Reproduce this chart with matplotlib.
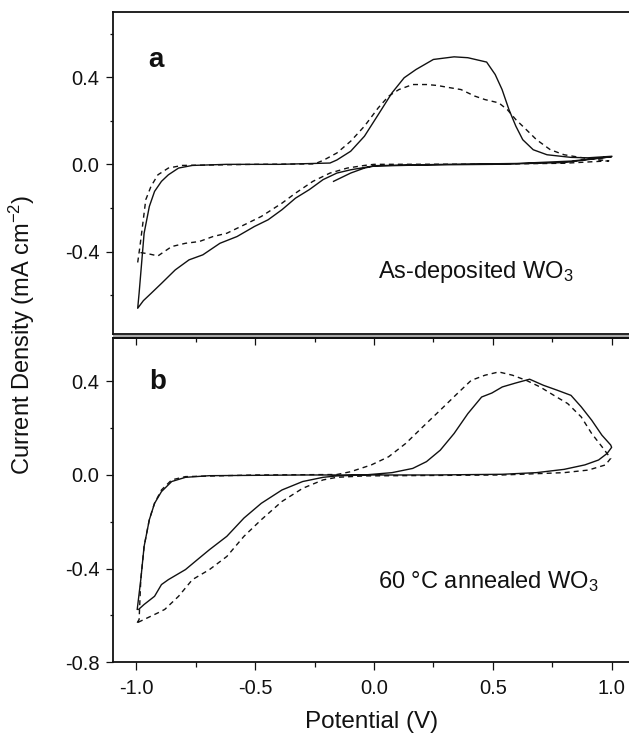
import numpy as np
import matplotlib
matplotlib.use('Agg')
import matplotlib.pyplot as plt
from matplotlib.ticker import MultipleLocator, FixedLocator
from matplotlib.patches import Rectangle

plt.rcParams['font.family'] = ['Liberation Sans', 'DejaVu Sans']
plt.rcParams['axes.unicode_minus'] = False
plt.rcParams['mathtext.fontset'] = 'custom'
plt.rcParams['mathtext.rm'] = 'Liberation Sans'
plt.rcParams['mathtext.default'] = 'regular'

# ---- panel a : as-deposited ----
a_solid_v = [-0.17, -0.098, -0.04, 0.0, 0.2, 0.5, 0.8, 1.0,
             0.83, 0.6, 0.3, 0.0, -0.011, -0.098, -0.156, -0.214, -0.272, -0.33, -0.387,
             -0.445, -0.503, -0.576, -0.648, -0.72, -0.778, -0.836, -0.894, -0.938, -0.97, -0.994,
             -0.988, -0.967, -0.945, -0.923, -0.894, -0.865, -0.822, -0.764, -0.62, -0.4,
             -0.185, -0.156, -0.098, -0.04, 0.018, 0.076, 0.127, 0.177, 0.25, 0.337, 0.395,
             0.474, 0.51, 0.539, 0.568, 0.597, 0.626, 0.67, 0.728, 0.829, 0.9, 1.0]
a_solid_i = [-0.078, -0.04, -0.017, -0.008, -0.003, 0.0, 0.008, 0.035,
             0.015, 0.004, 0.0, -0.006, -0.009, -0.025, -0.04, -0.07, -0.116, -0.155, -0.208,
             -0.254, -0.285, -0.331, -0.362, -0.415, -0.438, -0.484, -0.546, -0.592, -0.625, -0.66,
             -0.59, -0.316, -0.193, -0.124, -0.078, -0.048, -0.017, -0.005, 0.0, 0.0,
             0.006, 0.02, 0.06, 0.129, 0.228, 0.328, 0.397, 0.435, 0.481, 0.493, 0.489,
             0.469, 0.412, 0.343, 0.251, 0.175, 0.113, 0.067, 0.044, 0.032, 0.03, 0.037]

a_dash_v = [-0.994, -0.985, -0.974, -0.96, -0.938, -0.909, -0.865, -0.807, -0.5, -0.25,
            -0.214, -0.156, -0.098, -0.04, 0.018, 0.062, 0.105, 0.163, 0.221, 0.264, 0.322,
            0.366, 0.424, 0.467, 0.525, 0.561, 0.597, 0.641, 0.684, 0.742, 0.8, 0.9, 0.988,
            0.8, 0.5, 0.0, -0.04, -0.112, -0.185, -0.257, -0.33, -0.387, -0.474, -0.532,
            -0.619, -0.677, -0.735, -0.793, -0.851, -0.909, -0.95, -0.98, -0.996]
a_dash_i = [-0.45, -0.38, -0.285, -0.162, -0.101, -0.048, -0.017, -0.005, 0.0, 0.002,
            0.018, 0.052, 0.106, 0.175, 0.259, 0.313, 0.343, 0.366, 0.366, 0.362, 0.351,
            0.343, 0.313, 0.297, 0.282, 0.251, 0.205, 0.159, 0.113, 0.067, 0.044, 0.026, 0.016,
            0.005, 0.001, 0.0, -0.005, -0.017, -0.04, -0.078, -0.132, -0.178, -0.239, -0.27,
            -0.316, -0.331, -0.354, -0.362, -0.377, -0.42, -0.41, -0.405, -0.41]

# ---- panel b : 60 C annealed ----
b_solid_v = [-0.996, -0.981, -0.967, -0.945, -0.923, -0.894, -0.851, -0.793, -0.692, -0.3,
             -0.04, 0.076, 0.163, 0.221, 0.279, 0.337, 0.395, 0.453, 0.496, 0.54, 0.597,
             0.655, 0.713, 0.771, 0.829, 0.872, 0.916, 0.959, 0.996, 1.0,
             0.981, 0.945, 0.887, 0.8, 0.684, 0.54, 0.25, -0.04, -0.156, -0.214, -0.3,
             -0.387, -0.474, -0.547, -0.619, -0.692, -0.735, -0.793, -0.865, -0.894, -0.923,
             -0.967, -0.99]
b_solid_i = [-0.574, -0.447, -0.305, -0.191, -0.121, -0.071, -0.028, -0.01, -0.003, 0.0,
             0.0, 0.01, 0.028, 0.057, 0.106, 0.177, 0.262, 0.333, 0.35, 0.376, 0.393,
             0.409, 0.383, 0.362, 0.34, 0.291, 0.234, 0.17, 0.128, 0.118,
             0.092, 0.064, 0.043, 0.024, 0.01, 0.003, 0.0, 0.0, -0.004, -0.01, -0.028,
             -0.064, -0.121, -0.184, -0.262, -0.319, -0.355, -0.404, -0.447, -0.468, -0.518,
             -0.553, -0.574]

b_dash_v = [-0.996, -0.988, -0.981, -0.967, -0.945, -0.923, -0.894, -0.851, -0.793, -0.5,
            -0.156, -0.098, -0.011, 0.062, 0.134, 0.206, 0.279, 0.351, 0.409, 0.467, 0.525,
            0.583, 0.641, 0.699, 0.757, 0.815, 0.872, 0.916, 0.959, 0.996,
            0.974, 0.902, 0.8, 0.54, -0.04, -0.156, -0.214, -0.3, -0.387, -0.474, -0.547,
            -0.619, -0.692, -0.764, -0.822, -0.88, -0.909, -0.938, -0.967, -0.996]
b_dash_i = [-0.631, -0.617, -0.447, -0.305, -0.19, -0.12, -0.064, -0.021, -0.007, 0.0,
            0.002, 0.014, 0.043, 0.078, 0.135, 0.206, 0.277, 0.348, 0.404, 0.426, 0.44,
            0.426, 0.404, 0.376, 0.34, 0.305, 0.248, 0.177, 0.121, 0.071,
            0.043, 0.021, 0.01, 0.0, -0.004, -0.01, -0.021, -0.057, -0.113, -0.191, -0.262,
            -0.348, -0.404, -0.447, -0.518, -0.574, -0.589, -0.603, -0.617, -0.631]

W, H = 629, 741
def box(l, t, r, b):
    return [l / W, 1 - b / H, (r - l) / W, (b - t) / H]

fig = plt.figure(figsize=(W / 100, H / 100), dpi=100)
ax_a = fig.add_axes(box(112.5, 11.7, 629, 334))
ax_b = fig.add_axes(box(112.5, 338, 629, 662.3))

ink = '#111111'
dash = (0, (3.6, 2.9))
for ax, sv, si, dv, di in [(ax_a, a_solid_v, a_solid_i, a_dash_v, a_dash_i),
                           (ax_b, b_solid_v, b_solid_i, b_dash_v, b_dash_i)]:
    ax.plot(sv, si, color=ink, lw=1.0)
    ax.plot(dv, di, color=ink, lw=1.0, linestyle=dash)
    ax.set_xlim(-1.1, 1.073)
    ax.spines['right'].set_visible(False)
    for s in ['left', 'top', 'bottom']:
        ax.spines[s].set_linewidth(1.3)
        ax.spines[s].set_color(ink)
    ax.yaxis.set_minor_locator(MultipleLocator(0.2))
    ax.tick_params(axis='y', which='major', direction='out', length=5.3, width=0.9,
                   labelsize=14.5, pad=4, colors=ink)
    ax.tick_params(axis='y', which='minor', direction='out', length=2.4, width=0.9, colors=ink)

ax_a.set_ylim(-0.778, 0.70)
ax_a.yaxis.set_major_locator(FixedLocator([-0.4, 0.0, 0.4]))
ax_a.yaxis.set_major_formatter(plt.FuncFormatter(lambda v, p: '%.1f' % v))
ax_a.tick_params(axis='x', which='both', bottom=False, labelbottom=False)

ax_b.set_ylim(-0.8, 0.585)
ax_b.yaxis.set_major_locator(FixedLocator([-0.8, -0.4, 0.0, 0.4]))
ax_b.yaxis.set_major_formatter(plt.FuncFormatter(lambda v, p: '%.1f' % v))
ax_b.xaxis.set_major_locator(MultipleLocator(0.5))
ax_b.xaxis.set_minor_locator(MultipleLocator(0.25))
ax_b.xaxis.set_major_formatter(plt.FuncFormatter(lambda v, p: '%.1f' % v))
ax_b.tick_params(axis='x', which='major', direction='out', length=5.8, width=0.9,
                 labelsize=14.5, pad=6, colors=ink)
ax_b.tick_params(axis='x', which='minor', direction='out', length=3.4, width=0.9, colors=ink)

sec = ax_b.secondary_xaxis('top')
sec.xaxis.set_major_locator(MultipleLocator(0.5))
sec.xaxis.set_minor_locator(MultipleLocator(0.25))
sec.tick_params(axis='x', which='major', direction='in', length=5.3, width=0.9,
                labeltop=False, colors=ink)
sec.tick_params(axis='x', which='minor', direction='in', length=2.6, width=0.9, colors=ink)
sec.spines['top'].set_linewidth(1.3)

# grey band between the two panels
fig.patches.append(Rectangle((112.5 / W, 1 - 337.3 / H), (629 - 112.5) / W, 2.6 / H,
                             transform=fig.transFigure, facecolor='#a8a8a8',
                             edgecolor='none', zorder=5))

ax_a.text(-0.949, 0.448, 'a', fontsize=20, fontweight='bold', color=ink,
          ha='left', va='baseline')
ax_b.text(-0.945, 0.369, 'b', fontsize=20, fontweight='bold', color=ink,
          ha='left', va='baseline')
ax_a.text(0.018, -0.523, 'As-deposited WO$_3$', fontsize=17, color=ink,
          ha='left', va='baseline')
ax_b.text(0.018, -0.482, '60 \u00b0C annealed WO$_3$', fontsize=17, color=ink,
          ha='left', va='baseline')

fig.text(22 / W, 1 - 335 / H, 'Current Density (mA cm$^{-2}$)', rotation=90,
         fontsize=17, color=ink, ha='center', va='center')
fig.text(371.5 / W, 1 - 722 / H, 'Potential (V)', fontsize=17.5, color=ink,
         ha='center', va='center')

fig.savefig('out.png', dpi=100)
